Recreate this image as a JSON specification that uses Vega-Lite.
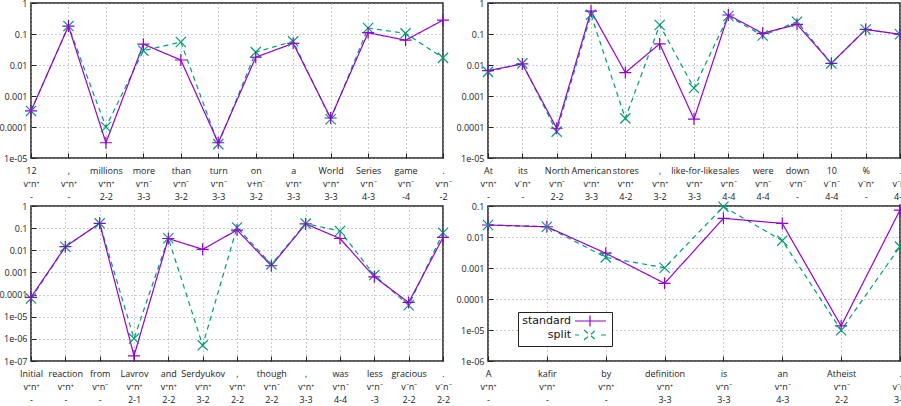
{
  "$schema": "https://vega.github.io/schema/vega-lite/v6.json",
  "padding": {"left": -2, "top": -2, "right": 0, "bottom": 0},
  "background": "white",
  "datasets": {
    "tl": [
      {"i": 0, "tok": "12|v⁺n⁺|-", "series": "split", "v": 0.00033},
      {"i": 1, "tok": ",|v⁺n⁺|-", "series": "split", "v": 0.18},
      {"i": 2, "tok": "millions|v⁺n⁺|2-2", "series": "split", "v": 0.0001},
      {"i": 3, "tok": "more|v⁺n⁻|3-3", "series": "split", "v": 0.029},
      {"i": 4, "tok": "than|v⁺n⁻|3-2", "series": "split", "v": 0.055},
      {"i": 5, "tok": "turn|v⁺n⁻|3-3", "series": "split", "v": 0.000028},
      {"i": 6, "tok": "on|v+n⁻|3-2", "series": "split", "v": 0.026},
      {"i": 7, "tok": "a|v⁺n⁺|3-3", "series": "split", "v": 0.058},
      {"i": 8, "tok": "World|v⁺n⁺|3-3", "series": "split", "v": 0.000178},
      {"i": 9, "tok": "Series|v⁺n⁻|4-3", "series": "split", "v": 0.156},
      {"i": 10, "tok": "game|v⁺n⁻|-4", "series": "split", "v": 0.105},
      {"i": 11, "tok": ".|v⁺n⁻|-2", "series": "split", "v": 0.017},
      {"i": 0, "tok": "12|v⁺n⁺|-", "series": "standard", "v": 0.00033},
      {"i": 1, "tok": ",|v⁺n⁺|-", "series": "standard", "v": 0.18},
      {"i": 2, "tok": "millions|v⁺n⁺|2-2", "series": "standard", "v": 0.000031},
      {"i": 3, "tok": "more|v⁺n⁻|3-3", "series": "standard", "v": 0.047},
      {"i": 4, "tok": "than|v⁺n⁻|3-2", "series": "standard", "v": 0.0145},
      {"i": 5, "tok": "turn|v⁺n⁻|3-3", "series": "standard", "v": 0.000031},
      {"i": 6, "tok": "on|v+n⁻|3-2", "series": "standard", "v": 0.0178},
      {"i": 7, "tok": "a|v⁺n⁺|3-3", "series": "standard", "v": 0.05},
      {"i": 8, "tok": "World|v⁺n⁺|3-3", "series": "standard", "v": 0.000195},
      {"i": 9, "tok": "Series|v⁺n⁻|4-3", "series": "standard", "v": 0.11},
      {"i": 10, "tok": "game|v⁺n⁻|-4", "series": "standard", "v": 0.063},
      {"i": 11, "tok": ".|v⁺n⁻|-2", "series": "standard", "v": 0.28}
    ],
    "tr": [
      {"i": 0, "tok": "At|v⁺n⁺|-", "series": "split", "v": 0.006},
      {"i": 1, "tok": "its|v⁻n⁺|-", "series": "split", "v": 0.0113},
      {"i": 2, "tok": "North|v⁺n⁻|2-2", "series": "split", "v": 0.000071},
      {"i": 3, "tok": "American|v⁺n⁺|3-3", "series": "split", "v": 0.42},
      {"i": 4, "tok": "stores|v⁺n⁺|4-2", "series": "split", "v": 0.00019},
      {"i": 5, "tok": ",|v⁺n⁺|3-2", "series": "split", "v": 0.195},
      {"i": 6, "tok": "like-for-like|v⁺n⁺|3-3", "series": "split", "v": 0.0018},
      {"i": 7, "tok": "sales|v⁺n⁻|4-4", "series": "split", "v": 0.38},
      {"i": 8, "tok": "were|v⁺n⁻|4-4", "series": "split", "v": 0.089},
      {"i": 9, "tok": "down|v⁺n⁻|-", "series": "split", "v": 0.25},
      {"i": 10, "tok": "10|v⁻n⁻|4-4", "series": "split", "v": 0.0113},
      {"i": 11, "tok": "%|v⁻n⁺|-", "series": "split", "v": 0.14},
      {"i": 12, "tok": ".|v⁻n⁻|4-4", "series": "split", "v": 0.098},
      {"i": 0, "tok": "At|v⁺n⁺|-", "series": "standard", "v": 0.0066},
      {"i": 1, "tok": "its|v⁻n⁺|-", "series": "standard", "v": 0.0108},
      {"i": 2, "tok": "North|v⁺n⁻|2-2", "series": "standard", "v": 0.000091},
      {"i": 3, "tok": "American|v⁺n⁺|3-3", "series": "standard", "v": 0.55},
      {"i": 4, "tok": "stores|v⁺n⁺|4-2", "series": "standard", "v": 0.0057},
      {"i": 5, "tok": ",|v⁺n⁺|3-2", "series": "standard", "v": 0.048},
      {"i": 6, "tok": "like-for-like|v⁺n⁺|3-3", "series": "standard", "v": 0.00018},
      {"i": 7, "tok": "sales|v⁺n⁻|4-4", "series": "standard", "v": 0.41},
      {"i": 8, "tok": "were|v⁺n⁻|4-4", "series": "standard", "v": 0.105},
      {"i": 9, "tok": "down|v⁺n⁻|-", "series": "standard", "v": 0.205},
      {"i": 10, "tok": "10|v⁻n⁻|4-4", "series": "standard", "v": 0.0113},
      {"i": 11, "tok": "%|v⁻n⁺|-", "series": "standard", "v": 0.14},
      {"i": 12, "tok": ".|v⁻n⁻|4-4", "series": "standard", "v": 0.098}
    ],
    "bl": [
      {"i": 0, "tok": "Initial|v⁺n⁺|-", "series": "split", "v": 0.000066},
      {"i": 1, "tok": "reaction|v⁺n⁺|-", "series": "split", "v": 0.0145},
      {"i": 2, "tok": "from|v⁺n⁻|-", "series": "split", "v": 0.165},
      {"i": 3, "tok": "Lavrov|v⁺n⁺|2-1", "series": "split", "v": 0.00000103},
      {"i": 4, "tok": "and|v⁺n⁺|2-2", "series": "split", "v": 0.035},
      {"i": 5, "tok": "Serdyukov|v⁺n⁺|3-2", "series": "split", "v": 0.00000051},
      {"i": 6, "tok": ",|v⁺n⁺|2-2", "series": "split", "v": 0.108},
      {"i": 7, "tok": "though|v⁺n⁻|2-2", "series": "split", "v": 0.0023},
      {"i": 8, "tok": ",|v⁺n⁺|3-3", "series": "split", "v": 0.16},
      {"i": 9, "tok": "was|v⁺n⁻|4-4", "series": "split", "v": 0.074},
      {"i": 10, "tok": "less|v⁺n⁻|-3", "series": "split", "v": 0.00076},
      {"i": 11, "tok": "gracious|v⁻n⁻|2-2", "series": "split", "v": 0.000033},
      {"i": 12, "tok": ".|v⁻n⁻|2-2", "series": "split", "v": 0.062},
      {"i": 0, "tok": "Initial|v⁺n⁺|-", "series": "standard", "v": 0.000075},
      {"i": 1, "tok": "reaction|v⁺n⁺|-", "series": "standard", "v": 0.0145},
      {"i": 2, "tok": "from|v⁺n⁻|-", "series": "standard", "v": 0.165},
      {"i": 3, "tok": "Lavrov|v⁺n⁺|2-1", "series": "standard", "v": 0.00000017},
      {"i": 4, "tok": "and|v⁺n⁺|2-2", "series": "standard", "v": 0.034},
      {"i": 5, "tok": "Serdyukov|v⁺n⁺|3-2", "series": "standard", "v": 0.011},
      {"i": 6, "tok": ",|v⁺n⁺|2-2", "series": "standard", "v": 0.082},
      {"i": 7, "tok": "though|v⁺n⁻|2-2", "series": "standard", "v": 0.002},
      {"i": 8, "tok": ",|v⁺n⁺|3-3", "series": "standard", "v": 0.155},
      {"i": 9, "tok": "was|v⁺n⁻|4-4", "series": "standard", "v": 0.034},
      {"i": 10, "tok": "less|v⁺n⁻|-3", "series": "standard", "v": 0.00063},
      {"i": 11, "tok": "gracious|v⁻n⁻|2-2", "series": "standard", "v": 0.000044},
      {"i": 12, "tok": ".|v⁻n⁻|2-2", "series": "standard", "v": 0.038}
    ],
    "br": [
      {"i": 0, "tok": "A|v⁺n⁺|-", "series": "split", "v": 0.0244},
      {"i": 1, "tok": "kafir|v⁺n⁺|-", "series": "split", "v": 0.0214},
      {"i": 2, "tok": "by|v⁺n⁺|-", "series": "split", "v": 0.0022},
      {"i": 3, "tok": "definition|v⁺n⁺|3-3", "series": "split", "v": 0.00102},
      {"i": 4, "tok": "is|v⁺n⁻|3-3", "series": "split", "v": 0.095},
      {"i": 5, "tok": "an|v⁺n⁻|4-3", "series": "split", "v": 0.0076},
      {"i": 6, "tok": "Atheist|v⁺n⁻|2-2", "series": "split", "v": 0.0000098},
      {"i": 7, "tok": ".|v⁻n⁺|3-1", "series": "split", "v": 0.0049},
      {"i": 0, "tok": "A|v⁺n⁺|-", "series": "standard", "v": 0.0244},
      {"i": 1, "tok": "kafir|v⁺n⁺|-", "series": "standard", "v": 0.0214},
      {"i": 2, "tok": "by|v⁺n⁺|-", "series": "standard", "v": 0.003},
      {"i": 3, "tok": "definition|v⁺n⁺|3-3", "series": "standard", "v": 0.00032},
      {"i": 4, "tok": "is|v⁺n⁻|3-3", "series": "standard", "v": 0.04},
      {"i": 5, "tok": "an|v⁺n⁻|4-3", "series": "standard", "v": 0.0275},
      {"i": 6, "tok": "Atheist|v⁺n⁻|2-2", "series": "standard", "v": 0.0000135},
      {"i": 7, "tok": ".|v⁻n⁺|3-1", "series": "standard", "v": 0.074}
    ]
  },
  "columns": 2,
  "spacing": {"row": 48, "column": 45},
  "bounds": "flush",
  "concat": [
    {
      "width": 412, "height": 155,
      "data": {"name": "tl"},
      "encoding": {
        "x": {"field": "tok", "type": "ordinal", "sort": {"field": "i", "op": "min"}, "scale": {"type": "point", "padding": 0}, "title": null},
        "y": {"field": "v", "type": "quantitative", "title": null, "scale": {"type": "log", "domain": [0.00001, 1]}, "axis": {"values": [1, 0.1, 0.01, 0.001, 0.0001, 0.00001]}},
        "color": {"field": "series", "type": "nominal", "scale": {"domain": ["standard", "split"], "range": ["#9400d3", "#009e73"]}, "legend": null}
      },
      "layer": [
        {"mark": {"type": "line", "strokeWidth": 1.2}, "encoding": {"strokeDash": {"field": "series", "type": "nominal", "scale": {"domain": ["standard", "split"], "range": [[1, 0], [5, 4]]}, "legend": null}}},
        {"mark": {"type": "point", "filled": false, "strokeWidth": 1.2, "size": 144, "opacity": 1}, "encoding": {"shape": {"field": "series", "type": "nominal", "scale": {"domain": ["standard", "split"], "range": ["M-1,0L1,0M0,-1L0,1", "M-0.85,-0.85L0.85,0.85M-0.85,0.85L0.85,-0.85"]}, "legend": null}}}
      ]
    },
    {
      "width": 412, "height": 155,
      "data": {"name": "tr"},
      "encoding": {
        "x": {"field": "tok", "type": "ordinal", "sort": {"field": "i", "op": "min"}, "scale": {"type": "point", "padding": 0}, "title": null},
        "y": {"field": "v", "type": "quantitative", "title": null, "scale": {"type": "log", "domain": [0.00001, 1]}, "axis": {"values": [1, 0.1, 0.01, 0.001, 0.0001, 0.00001]}},
        "color": {"field": "series", "type": "nominal", "scale": {"domain": ["standard", "split"], "range": ["#9400d3", "#009e73"]}, "legend": null}
      },
      "layer": [
        {"mark": {"type": "line", "strokeWidth": 1.2}, "encoding": {"strokeDash": {"field": "series", "type": "nominal", "scale": {"domain": ["standard", "split"], "range": [[1, 0], [5, 4]]}, "legend": null}}},
        {"mark": {"type": "point", "filled": false, "strokeWidth": 1.2, "size": 144, "opacity": 1}, "encoding": {"shape": {"field": "series", "type": "nominal", "scale": {"domain": ["standard", "split"], "range": ["M-1,0L1,0M0,-1L0,1", "M-0.85,-0.85L0.85,0.85M-0.85,0.85L0.85,-0.85"]}, "legend": null}}}
      ]
    },
    {
      "width": 412, "height": 155,
      "data": {"name": "bl"},
      "encoding": {
        "x": {"field": "tok", "type": "ordinal", "sort": {"field": "i", "op": "min"}, "scale": {"type": "point", "padding": 0}, "title": null},
        "y": {"field": "v", "type": "quantitative", "title": null, "scale": {"type": "log", "domain": [0.0000001, 1]}, "axis": {"values": [1, 0.1, 0.01, 0.001, 0.0001, 0.00001, 0.000001, 0.0000001]}},
        "color": {"field": "series", "type": "nominal", "scale": {"domain": ["standard", "split"], "range": ["#9400d3", "#009e73"]}, "legend": null}
      },
      "layer": [
        {"mark": {"type": "line", "strokeWidth": 1.2}, "encoding": {"strokeDash": {"field": "series", "type": "nominal", "scale": {"domain": ["standard", "split"], "range": [[1, 0], [5, 4]]}, "legend": null}}},
        {"mark": {"type": "point", "filled": false, "strokeWidth": 1.2, "size": 144, "opacity": 1}, "encoding": {"shape": {"field": "series", "type": "nominal", "scale": {"domain": ["standard", "split"], "range": ["M-1,0L1,0M0,-1L0,1", "M-0.85,-0.85L0.85,0.85M-0.85,0.85L0.85,-0.85"]}, "legend": null}}}
      ]
    },
    {
      "width": 412, "height": 155,
      "data": {"name": "br"},
      "encoding": {
        "x": {"field": "tok", "type": "ordinal", "sort": {"field": "i", "op": "min"}, "scale": {"type": "point", "padding": 0}, "title": null},
        "y": {"field": "v", "type": "quantitative", "title": null, "scale": {"type": "log", "domain": [0.000001, 0.1]}, "axis": {"values": [0.1, 0.01, 0.001, 0.0001, 0.00001, 0.000001]}},
        "color": {
          "field": "series", "type": "nominal",
          "scale": {"domain": ["standard", "split"], "range": ["#9400d3", "#009e73"]},
          "legend": {
            "orient": "none", "legendX": 30, "legendY": 106, "title": null,
            "labelAlign": "right", "labelOffset": 38, "labelFont": "DejaVu Sans", "labelFontSize": 11, "labelColor": "#111",
            "symbolSize": 100, "symbolStrokeWidth": 1.2, "symbolOpacity": 1, "rowPadding": -2, "padding": 3,
            "strokeColor": "#222", "fillColor": "white"
          }
        }
      },
      "layer": [
        {"mark": {"type": "line", "strokeWidth": 1.2}, "encoding": {"strokeDash": {"field": "series", "type": "nominal", "scale": {"domain": ["standard", "split"], "range": [[1, 0], [5, 4]]}, "legend": null}}},
        {
          "transform": [{"filter": "datum.series === 'standard'"}],
          "mark": {"type": "point", "shape": "M-1,0L1,0M0,-1L0,1", "filled": false, "strokeWidth": 1.2, "size": 144, "opacity": 1}
        },
        {
          "transform": [{"filter": "datum.series === 'split'"}],
          "mark": {"type": "point", "shape": "M-0.85,-0.85L0.85,0.85M-0.85,0.85L0.85,-0.85", "filled": false, "strokeWidth": 1.2, "size": 144, "opacity": 1}
        },
        {
          "mark": {"type": "point", "filled": false, "strokeWidth": 1.2, "size": 100, "opacity": 0},
          "encoding": {"shape": {"field": "series", "type": "nominal", "scale": {"domain": ["standard", "split"], "range": ["M9.6,0L15.8,0M12.6,-1.1L12.6,1.1", "M9.6,0L10.4,0M14.8,0L15.8,0M11.4,-1L13.8,1M11.4,1L13.8,-1"]}, "legend": null}}
        }
      ]
    }
  ],
  "resolve": {"scale": {"color": "independent", "shape": "independent", "strokeDash": "independent"}},
  "config": {
    "view": {"stroke": "#222", "strokeWidth": 1.5},
    "axis": {
      "domain": false, "ticks": true, "tickSize": -5, "tickColor": "#222", "tickWidth": 1, "grid": true,
      "gridDash": [1, 3], "gridColor": "#999", "gridWidth": 1,
      "labelFont": "Open Sans", "labelFontSize": 9, "labelColor": "#222"
    },
    "axisX": {"labelAngle": 0, "labelPadding": 13, "labelLineHeight": 13, "labelOverlap": false, "labelExpr": "split(datum.value, '|')"},
    "axisY": {"labelPadding": 9, "labelExpr": "datum.value >= 0.0001 ? '' + datum.value : '1e-0' + round(-log(datum.value) / LN10)"}
  }
}
